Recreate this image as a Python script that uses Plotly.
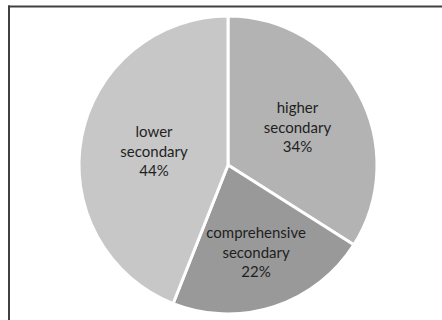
import plotly.graph_objects as go

categories = ["higher secondary", "comprehensive secondary", "lower secondary"]
display_labels = ["higher<br>secondary", "comprehensive<br>secondary", "lower<br>secondary"]
values = [34, 22, 44]
colors = ["#b3b3b3", "#999999", "#c7c7c7"]

W, H = 442, 320
cx, cy, r = 228, 165, 149

fig = go.Figure(go.Pie(
    labels=categories,
    values=values,
    text=display_labels,
    texttemplate="%{text}<br>%{percent:.0%}",
    textposition="inside",
    insidetextorientation="horizontal",
    sort=False,
    direction="clockwise",
    rotation=0,
    marker=dict(colors=colors, line=dict(color="white", width=3)),
    textfont=dict(family="Lato, Carlito, Calibri, sans-serif", size=15, color="#1f1f1f"),
    domain=dict(x=[(cx - r) / W, (cx + r) / W], y=[(H - cy - r) / H, (H - cy + r) / H]),
    showlegend=False,
    hoverinfo="label+percent",
))

fig.update_layout(
    width=W, height=H,
    margin=dict(l=0, r=0, t=0, b=0),
    paper_bgcolor="white",
    shapes=[
        dict(type="line", xref="paper", yref="paper", x0=8 / W, x1=1, y0=1 - 6.5 / H, y1=1 - 6.5 / H,
             line=dict(color="#404040", width=2)),
        dict(type="line", xref="paper", yref="paper", x0=9 / W, x1=9 / W, y0=0, y1=1 - 5.5 / H,
             line=dict(color="#404040", width=2)),
    ],
)

fig.write_html("out.html")
